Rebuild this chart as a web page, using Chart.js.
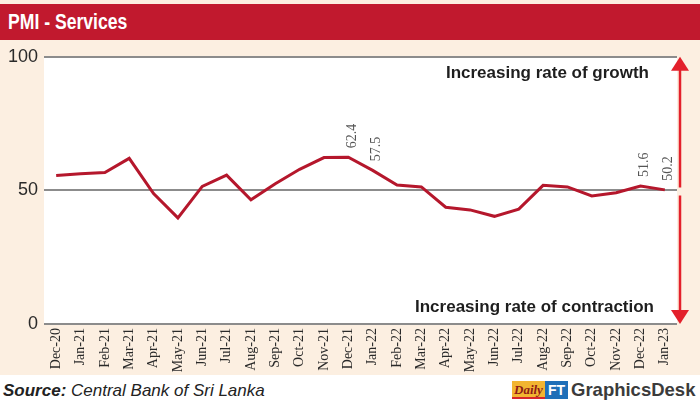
<!DOCTYPE html>
<html>
<head>
<meta charset="utf-8">
<script src="https://cdn.jsdelivr.net/npm/chart.js@4/dist/chart.umd.min.js"></script>
<style>
  body { margin: 0; width: 700px; height: 400px; background: #fff; position: relative; overflow: hidden; font-family: "Liberation Sans", Arial, sans-serif; }
  #fondo { position: absolute; left: 0; top: 0; width: 700px; height: 375px; background: #fcefe1; }
  #titulo { position: absolute; left: 0; top: 4px; width: 700px; height: 36px; background: #c1192e; }
  #titulo span { position: absolute; left: 8px; top: 5px; color: #fff; font-weight: bold; font-size: 22px; transform: scaleX(0.8); transform-origin: left center; white-space: nowrap; }
  #grafico { position: absolute; left: 0; top: 40px; width: 700px; height: 335px; }
  #fonte { position: absolute; left: 3px; top: 381px; font-size: 17px; font-style: italic; color: #222; }
  #fonte b { font-weight: bold; }
  #logo { position: absolute; left: 512px; top: 380px; height: 19px; display: flex; align-items: center; }
  #logo .daily { background: #f2b531; color: #8e1b16; font-family: "Liberation Serif", serif; font-style: italic; font-weight: bold; font-size: 13px; padding: 0 2px; height: 18px; line-height: 18px; border-bottom: 2px solid #d7262c; box-sizing: border-box; }
  #logo .ft { background: #1f6fb8; color: #fff; font-weight: bold; font-size: 14px; padding: 0 3px; height: 18px; line-height: 18px; }
  #logo .gd { color: #3b3b3b; font-weight: bold; font-size: 18.5px; margin-left: 3px; }
</style>
</head>
<body>
<div id="fondo"></div>
<div id="titulo"><span>PMI - Services</span></div>
<div id="grafico"><canvas id="myChart" width="700" height="335"></canvas></div>
<div id="fonte"><b>Source:</b> Central Bank of Sri Lanka</div>
<div id="logo"><span class="daily">Daily</span><span class="ft">FT</span><span class="gd">GraphicsDesk</span></div>

<script>
// meses do eixo x
const meses = ['Dec-20', 'Jan-21', 'Feb-21', 'Mar-21', 'Apr-21', 'May-21', 'Jun-21', 'Jul-21', 'Aug-21', 'Sep-21',
  'Oct-21', 'Nov-21', 'Dec-21', 'Jan-22', 'Feb-22', 'Mar-22', 'Apr-22', 'May-22', 'Jun-22', 'Jul-22',
  'Aug-22', 'Sep-22', 'Oct-22', 'Nov-22', 'Dec-22', 'Jan-23'];

// valores do PMI serviços
const pmiServicos = [55.6, 56.2, 56.7, 62.0, 48.8, 39.7, 51.5, 55.7, 46.5, 52.5,
  57.9, 62.3, 62.4, 57.5, 52.0, 51.3, 43.7, 42.7, 40.3, 43.0,
  51.9, 51.3, 47.9, 49.1, 51.6, 50.2];

// pontos que recebem rótulo
const rotulados = [12, 13, 24, 25];

// eixo y
const ticksY = [0, 50, 100];

const vermelho = '#b5172c';
const seta = '#e3202b';

// fundo branco da área do gráfico
const fundoBranco = {
  id: 'fundoBranco',
  beforeDraw(chart) {
    const a = chart.chartArea;
    const c = chart.ctx;
    c.save();
    c.fillStyle = '#fff';
    c.fillRect(a.left, a.top, a.right - a.left, a.bottom - a.top);
    c.restore();
  }
};

// setas, textos e rótulos
const extras = {
  id: 'extras',
  afterDraw(chart) {
    const c = chart.ctx;
    const a = chart.chartArea;
    const y = chart.scales.y;
    const x = chart.scales.x;
    const sx = a.right + 3;
    const yTop = y.getPixelForValue(100);
    const yMid = y.getPixelForValue(50);
    const yBot = y.getPixelForValue(0);

    c.save();
    // seta dupla
    c.strokeStyle = seta;
    c.fillStyle = seta;
    c.lineWidth = 2.5;
    c.beginPath();
    c.moveTo(sx, yTop + 12);
    c.lineTo(sx, yMid - 3);
    c.moveTo(sx, yMid + 5);
    c.lineTo(sx, yBot - 12);
    c.stroke();
    c.beginPath();
    c.moveTo(sx, yTop);
    c.lineTo(sx - 9, yTop + 14);
    c.lineTo(sx + 9, yTop + 14);
    c.closePath();
    c.fill();
    c.beginPath();
    c.moveTo(sx, yBot);
    c.lineTo(sx - 9, yBot - 14);
    c.lineTo(sx + 9, yBot - 14);
    c.closePath();
    c.fill();

    // textos
    c.fillStyle = '#1e1e1e';
    c.font = 'bold 17px "Liberation Sans", Arial, sans-serif';
    c.textAlign = 'right';
    c.textBaseline = 'middle';
    c.fillText('Increasing rate of growth', a.right - 28, yTop + 17);
    c.fillText('Increasing rate of contraction', a.right - 23, yBot - 17);

    // rótulos dos valores
    c.fillStyle = '#555';
    c.font = '14px "Liberation Serif", "Times New Roman", serif';
    c.textAlign = 'left';
    rotulados.forEach(function(i) {
      const px = x.getPixelForValue(i);
      const py = y.getPixelForValue(pmiServicos[i]);
      c.save();
      c.translate(px + 4, py - 9);
      c.rotate(-Math.PI / 2);
      c.fillText(pmiServicos[i].toFixed(1), 0, 0);
      c.restore();
    });
    c.restore();
  }
};

const ctx = document.getElementById('myChart').getContext('2d');

new Chart(ctx, {
  type: 'line',
  data: {
    labels: meses,
    datasets: [{
      data: pmiServicos,
      borderColor: vermelho,
      borderWidth: 3,
      pointRadius: 0,
      tension: 0,
      fill: false
    }]
  },
  options: {
    responsive: false,
    animation: false,
    layout: { padding: { top: 12, right: 23, left: 0, bottom: 0 } },
    plugins: {
      legend: { display: false },
      tooltip: { enabled: false }
    },
    scales: {
      x: {
        offset: true,
        grid: { display: false, drawTicks: false },
        border: { display: false },
        ticks: {
          minRotation: 90,
          maxRotation: 90,
          autoSkip: false,
          padding: 4,
          color: '#2a2a2a',
          font: { family: '"Liberation Serif", "Times New Roman", serif', size: 14 }
        },
        afterFit(scale) { scale.height = 51; }
      },
      y: {
        min: 0,
        max: 100,
        afterBuildTicks(scale) { scale.ticks = ticksY.map(v => ({ value: v })); },
        grid: { color: '#8c8c8c', lineWidth: 2, drawTicks: false },
        border: { display: false },
        ticks: {
          padding: 6,
          color: '#2a2a2a',
          font: { family: '"Liberation Sans", Arial, sans-serif', size: 18 }
        },
        afterFit(scale) { scale.width = 44; }
      }
    }
  },
  plugins: [fundoBranco, extras]
});
</script>
</body>
</html>
